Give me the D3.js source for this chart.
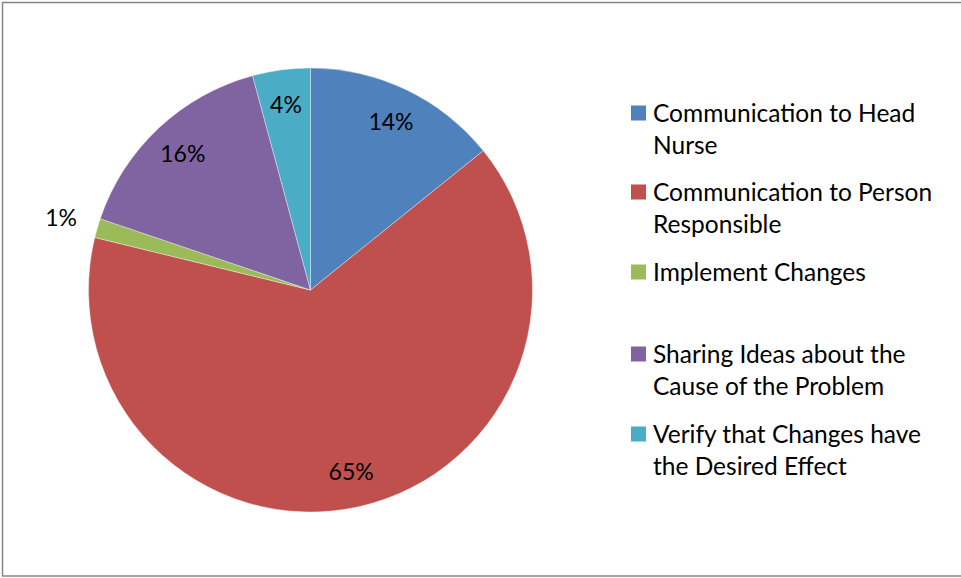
<!DOCTYPE html>
<html>
<head>
<meta charset="utf-8">
<script src="https://cdn.jsdelivr.net/npm/d3@7/dist/d3.min.js"></script>
<style>
  html, body { margin: 0; padding: 0; background: #fff; }
  svg { display: block; }
  text { font-family: Lato, "Open Sans", sans-serif; fill: #000; }
</style>
</head>
<body>
<svg id="chart" width="961" height="578"></svg>
<script>
// Share of responses per category (percent)
const categories = [
  "Communication to Head Nurse",
  "Communication to Person Responsible",
  "Implement Changes",
  "Sharing Ideas about the Cause of the Problem",
  "Verify that Changes have the Desired Effect"
];
const values = [14.2, 64.6, 1.4, 15.6, 4.2];
// Legend text, broken into lines
const legendLines = [
  ["Communication to Head", "Nurse"],
  ["Communication to Person", "Responsible"],
  ["Implement Changes"],
  ["Sharing Ideas about the", "Cause of the Problem"],
  ["Verify that Changes have", "the Desired Effect"]
];
const colors = ["#4F81BD", "#C0504D", "#9BBB59", "#8064A2", "#4BACC6"];

const svg = d3.select("#chart");

// Chart frame
svg.append("rect")
  .attr("x", 2.5).attr("y", 2.5)
  .attr("width", 970).attr("height", 573.5)
  .attr("fill", "#fff")
  .attr("stroke", "#868686")
  .attr("stroke-width", 1.5);

const cx = 310.5, cy = 290, r = 222;
const total = d3.sum(values);
const data = categories.map((c, i) => ({ name: c, value: values[i], color: colors[i] }));

const pie = d3.pie().sort(null).value(d => d.value);
const arc = d3.arc().innerRadius(0).outerRadius(r);
const arcs = pie(data);

const g = svg.append("g").attr("transform", `translate(${cx},${cy})`);
g.selectAll("path.slice")
  .data(arcs)
  .enter().append("path")
  .attr("class", "slice")
  .attr("d", arc)
  .attr("fill", d => d.data.color)
  .attr("stroke", "rgba(255,255,255,0.45)")
  .attr("stroke-width", 0.8);

// Percentage labels: inside for larger slices, outside for the tiny one
const fmt = d3.format(".0%");
const labelInner = d3.arc().innerRadius(r * 0.84).outerRadius(r * 0.84);
const labelOuter = d3.arc().innerRadius(r * 1.17).outerRadius(r * 1.17);
g.selectAll("text.pct")
  .data(arcs)
  .enter().append("text")
  .attr("class", "pct")
  .attr("transform", d => {
    const small = (d.endAngle - d.startAngle) < 0.1;
    const p = (small ? labelOuter : labelInner).centroid(d);
    return `translate(${p[0]},${p[1]})`;
  })
  .attr("text-anchor", "middle")
  .attr("dy", "0.35em")
  .style("font-size", "23px")
  .text(d => fmt(d.data.value / total));

// Legend
const legendTop = [113, 192, 272, 354, 434];
const lg = svg.append("g");
data.forEach((d, i) => {
  const item = lg.append("g").attr("transform", `translate(631,${legendTop[i]})`);
  item.append("rect")
    .attr("x", 0).attr("y", -7.5)
    .attr("width", 15).attr("height", 15)
    .attr("fill", d.color);
  const t = item.append("text")
    .attr("x", 22).attr("y", 0)
    .style("font-size", "24.5px");
  legendLines[i].forEach((line, j) => {
    t.append("tspan").attr("x", 22).attr("dy", j === 0 ? "0.36em" : 32).text(line);
  });
});
</script>
</body>
</html>
